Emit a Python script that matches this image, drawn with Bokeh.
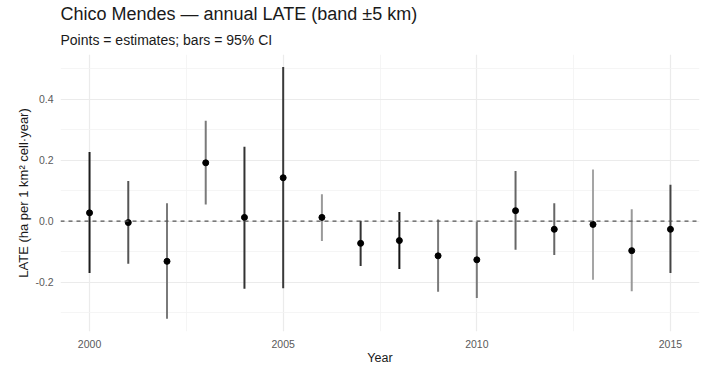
from bokeh.plotting import figure
from bokeh.models import FixedTicker, Span, Title, ColumnDataSource, Range1d, PrintfTickFormatter
from bokeh.embed import file_html
from bokeh.resources import INLINE

years = [2000, 2001, 2002, 2003, 2004, 2005, 2006, 2007,
         2008, 2009, 2010, 2011, 2012, 2013, 2014, 2015]
estimates = [0.027, -0.005, -0.132, 0.191, 0.012, 0.142, 0.012, -0.073,
             -0.064, -0.114, -0.127, 0.034, -0.027, -0.011, -0.097, -0.027]
ci_lower = [-0.170, -0.140, -0.320, 0.054, -0.222, -0.220, -0.065, -0.147,
            -0.157, -0.232, -0.252, -0.094, -0.111, -0.192, -0.230, -0.170]
ci_upper = [0.226, 0.131, 0.058, 0.329, 0.244, 0.505, 0.088, 0.001,
            0.030, 0.005, -0.002, 0.164, 0.058, 0.169, 0.039, 0.119]
bar_shades = ["#1e1e1e", "#555555", "#7a7a7a", "#7a7a7a", "#333333", "#3a3a3a", "#9a9a9a", "#333333",
              "#151515", "#7a7a7a", "#7a7a7a", "#666666", "#666666", "#a5a5a5", "#999999", "#444444"]

x_major = [2000, 2005, 2010, 2015]
x_minor = [2002.5, 2007.5, 2012.5]
y_major = [-0.2, 0.0, 0.2, 0.4]
y_minor = [-0.3, -0.1, 0.1, 0.3, 0.5]

title_text = "Chico Mendes \u2014 annual LATE (band \u00b15 km)"
subtitle_text = "Points = estimates; bars = 95% CI"
x_label = "Year"
y_label = "LATE (ha per 1 km\u00b2 cell\u00b7year)"

src = ColumnDataSource(dict(year=years, est=estimates, lo=ci_lower, hi=ci_upper, shade=bar_shades))

FONT = "Liberation Sans"

p = figure(width=716, height=369, output_backend="svg", toolbar_location=None,
           x_range=Range1d(1999.25, 2015.75), y_range=Range1d(-0.362, 0.546),
           min_border_left=60, min_border_right=17, min_border_top=54, min_border_bottom=38)

p.title.text = title_text
p.title.text_font = FONT
p.title.text_font_size = "18px"
p.title.text_font_style = "normal"
p.title.text_color = "#1a1a1a"
p.title.align = "left"
p.title.offset = 0
p.title.standoff = 0

sub = Title(text=subtitle_text, text_font=FONT, text_font_size="14px",
            text_font_style="normal", text_color="#1a1a1a", align="left", offset=0, standoff=13)
p.add_layout(sub, "above")

p.outline_line_color = None
p.background_fill_color = "white"
p.border_fill_color = "white"

p.xaxis.ticker = FixedTicker(ticks=x_major, minor_ticks=x_minor)
p.yaxis.ticker = FixedTicker(ticks=y_major, minor_ticks=y_minor)
p.yaxis.formatter = PrintfTickFormatter(format="%.1f")

for ax in (p.xaxis, p.yaxis):
    ax.axis_line_color = None
    ax.major_tick_line_color = None
    ax.minor_tick_line_color = None
    ax.major_label_text_font = FONT
    ax.major_label_text_font_size = "10.5px"
    ax.major_label_text_color = "#5a5a5a"
    ax.axis_label_text_font = FONT
    ax.axis_label_text_font_style = "normal"
    ax.axis_label_text_color = "#1a1a1a"

p.xaxis.axis_label = x_label
p.yaxis.axis_label = y_label
p.xaxis.axis_label_text_font_size = "12.5px"
p.yaxis.axis_label_text_font_size = "13px"
p.xaxis.major_label_standoff = 2
p.xaxis.axis_label_standoff = 0
p.yaxis.major_label_standoff = 1
p.yaxis.axis_label_standoff = 1

for g in (p.xgrid, p.ygrid):
    g.grid_line_color = "#ebebeb"
    g.grid_line_width = 1.2
    g.minor_grid_line_color = "#f2f2f2"
    g.minor_grid_line_width = 0.8

zero = Span(location=0, dimension="width", line_color="#555555", line_dash="4 4", line_width=1.2)
p.add_layout(zero)

p.segment(x0="year", y0="lo", x1="year", y1="hi", line_color="shade", line_width=2, source=src)
p.scatter(x="year", y="est", size=6, fill_color="black", line_color="black", source=src)

open("out.html", "w").write(file_html(p, INLINE))
